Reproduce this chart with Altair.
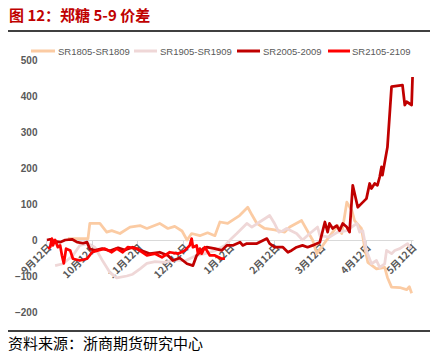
import altair as alt
import pandas as pd

# ---- data (x = months since 9月12日, y = spread) ----
month_labels = ["9月12日", "10月12日", "11月12日", "12月12日", "1月12日",
                "2月12日", "3月12日", "4月12日", "5月12日"]
series_names = ["SR1805-SR1809", "SR1905-SR1909", "SR2005-2009", "SR2105-2109"]
series_colors = ["#FBCBA3", "#EFD7D7", "#C00000", "#FF0000"]

sr18_x = [0.48, 0.92, 0.96, 1.18, 1.33, 1.44, 1.62, 1.84, 2.06, 2.21, 2.49, 2.67, 2.82,
          2.98, 3.09, 3.19, 3.37, 3.54, 3.70, 3.81, 3.98, 4.24, 4.42, 4.51, 4.62, 4.79,
          5.01, 5.23, 5.34, 5.60, 5.84, 5.93, 6.15, 6.28, 6.39, 6.48, 6.59, 6.70, 6.76,
          6.91, 6.98, 7.05, 7.24, 7.42, 7.48, 7.57, 7.75, 7.90, 7.96, 8.01]
sr18_y = [4, 4, 46, 46, 22, 26, 18, 36, 40, 32, 46, 32, 38,
          25, 0, 18, 12, 20, 12, 50, 46, 68, 91, 70, 46, 32,
          28, 22, 36, 54, 0, -38, 0, 22, 40, 18, 105, 82, 54,
          32, -20, -62, -80, -76, -104, -131, -132, -138, -130, -148]

sr19_x = [0.20, 0.37, 0.59, 0.74, 0.92, 1.07, 1.25, 1.40, 1.55, 1.77, 1.90, 2.06, 2.21,
          2.39, 2.60, 2.82, 3.04, 3.26, 3.48, 3.70, 3.92, 4.07, 4.18, 4.40, 4.51, 4.68,
          4.90, 5.01, 5.10, 5.18, 5.27, 5.49, 5.62, 5.78, 5.95, 6.00, 6.21, 6.39, 6.59,
          6.81, 6.87, 6.94, 7.02, 7.13, 7.24, 7.31, 7.42, 7.46, 7.57, 7.64, 7.75, 7.86,
          7.92, 7.99]
sr19_y = [-71, -66, -43, -15, -10, -20, -60, -90, -105, -100, -95, -80, -65,
          -60, -62, -55, -58, -45, -38, -30, -15, 5, 18, 46, 36, 50,
          68, 45, 22, 25, 32, 18, 0, 18, 36, 12, 8, 22, 26,
          46, 22, 26, -29, -66, -57, -76, -66, -29, -38, -29, -24, -15,
          -10, -24]

sr20_x = [0.02, 0.09, 0.20, 0.31, 0.42, 0.57, 0.68, 0.81, 0.90, 0.96, 1.07, 1.23, 1.40,
          1.58, 1.73, 1.90, 2.06, 2.28, 2.49, 2.67, 2.78, 2.93, 3.09, 3.22, 3.30, 3.44,
          3.52, 3.70, 3.85, 3.96, 4.09, 4.25, 4.31, 4.40, 4.62, 4.84, 4.90, 5.01, 5.19,
          5.30, 5.38, 5.49, 5.62, 5.73, 5.84, 6.00, 6.11, 6.17, 6.21, 6.28, 6.37, 6.43,
          6.50, 6.59, 6.65, 6.72, 6.83, 6.91, 7.02, 7.09, 7.13, 7.20, 7.26, 7.31, 7.35,
          7.37, 7.48, 7.57, 7.81, 7.86, 7.90, 8.01, 8.03]
sr20_y = [0, 2, -4, -6, 0, 2, -6, -9, -6, -25, -29, -24, -30,
          -22, -28, -20, -28, -38, -34, -43, -57, -50, -66, -71, -43, -24,
          -20, -24, -29, -15, -15, -6, -15, -10, -10, 4, -10, -20, -20,
          -34, -29, -20, -15, -20, -15, -6, 50, 22, 46, 32, 40, 26,
          46, 36, 22, 152, 91, 101, 115, 157, 143, 157, 152, 175, 203,
          180, 258, 426, 430, 375, 384, 375, 453]

sr21_x = [0.04, 0.09, 0.13, 0.15, 0.20, 0.26, 0.31, 0.35, 0.39, 0.44, 0.53, 0.59, 0.74,
          0.90, 1.01, 1.14, 1.29, 1.44, 1.55, 1.68, 1.79, 1.99, 2.21, 2.39, 2.54, 2.71,
          2.89, 3.04, 3.15, 3.19, 3.22, 3.30, 3.33, 3.37, 3.41, 3.48, 3.59, 3.70, 3.85,
          3.92]
sr21_y = [-24, -20, 4, -15, 0, -20, -15, -43, -65, -24, -29, -52, -57,
          -52, -34, -29, -24, -34, -24, -34, -20, -24, -43, -38, -48, -34,
          -38, -29, -15, 4, -20, -15, -38, -24, -38, -20, -43, -43, -52,
          -52]

y_ticks = [-200, -100, 0, 100, 200, 300, 400, 500]
title_text = "图 12：郑糖 5-9 价差"
source_text = "资料来源：浙商期货研究中心"

# legend layout (pixel offsets from the plot's left edge)
legend_sym_start = [-15, 88, 191, 282]
legend_sym_end = [9, 111, 214, 304]
legend_lab_start = [12, 114, 217, 306]

rows = []
for name, xs, ys in zip(series_names, [sr18_x, sr19_x, sr20_x, sr21_x],
                        [sr18_y, sr19_y, sr20_y, sr21_y]):
    for x, y in zip(xs, ys):
        rows.append({"series": name, "m": x, "v": y})
df = pd.DataFrame(rows)

leg_df = pd.DataFrame({"series": series_names, "s0": legend_sym_start,
                       "s1": legend_sym_end, "l0": legend_lab_start})

label_expr = "[" + ",".join("'%s'" % s for s in month_labels) + "][round(datum.value)]"

W, H = 367, 252
PL, PT = 38, 52

color_enc = alt.Color("series:N",
                      scale=alt.Scale(domain=series_names, range=series_colors),
                      legend=None)

lines = alt.Chart(df).mark_line(strokeWidth=2.75, strokeJoin="round").encode(
    x=alt.X("m:Q", scale=alt.Scale(domain=[0, 8.04], nice=False, zero=False),
            axis=alt.Axis(values=list(range(9)), labelExpr=label_expr, title=None,
                          offset=-72, domainColor="#D9D9D9", domainWidth=1,
                          tickColor="#D9D9D9", tickSize=5, grid=False,
                          labelAngle=315, labelAlign="right", labelBaseline="top",
                          labelPadding=-3, labelOverlap=False, labelFlush=False,
                          labelBound=False, labelFont="Noto Sans CJK SC",
                          labelFontWeight="bold", labelFontSize=10,
                          labelColor="#595959")),
    y=alt.Y("v:Q", scale=alt.Scale(domain=[-200, 500], nice=False, zero=False),
            axis=alt.Axis(values=y_ticks, title=None, domain=False, ticks=False,
                          grid=False, labelPadding=9, labelFont="Liberation Sans",
                          labelFontWeight="bold", labelFontSize=10,
                          labelColor="#595959")),
    color=color_enc,
    detail="series:N",
)

leg_sym = alt.Chart(leg_df).mark_rule(strokeWidth=3).encode(
    x=alt.X("s0:Q", scale=None), x2="s1:Q", y=alt.value(-9), color=color_enc
)
leg_lab = alt.Chart(leg_df).mark_text(
    align="left", baseline="middle", fontSize=9.5, font="Liberation Sans",
    color="#595959"
).encode(x=alt.X("l0:Q", scale=None), y=alt.value(-8.5), text="series:N")

title = alt.Chart(pd.DataFrame({"t": [title_text]})).mark_text(
    align="left", baseline="alphabetic", fontSize=15, fontWeight="bold",
    font="Noto Sans CJK SC", color="#C00000"
).encode(x=alt.value(-37), y=alt.value(-39.5), text="t:N")

source = alt.Chart(pd.DataFrame({"t": [source_text]})).mark_text(
    align="left", baseline="alphabetic", fontSize=15, fontWeight="normal",
    font="Noto Sans CJK SC", color="#000000"
).encode(x=alt.value(-38), y=alt.value(289), text="t:N")

rule_top = alt.Chart(pd.DataFrame({"a": [0]})).mark_rule(
    color="black", strokeWidth=1.5
).encode(x=alt.value(-38), x2=alt.value(384), y=alt.value(-29))

rule_bot = alt.Chart(pd.DataFrame({"a": [0]})).mark_rule(
    color="black", strokeWidth=1.5
).encode(x=alt.value(-38), x2=alt.value(384), y=alt.value(271))

chart = alt.layer(lines, leg_sym, leg_lab, title, source, rule_top, rule_bot).properties(
    width=W, height=H,
    padding={"left": PL, "top": PT, "right": 422 - PL - W, "bottom": 348 - PT - H},
    autosize=alt.AutoSizeParams(type="none"),
).configure_view(stroke=None)

chart.save("out.html", embed_options={"renderer": "svg", "actions": False})
